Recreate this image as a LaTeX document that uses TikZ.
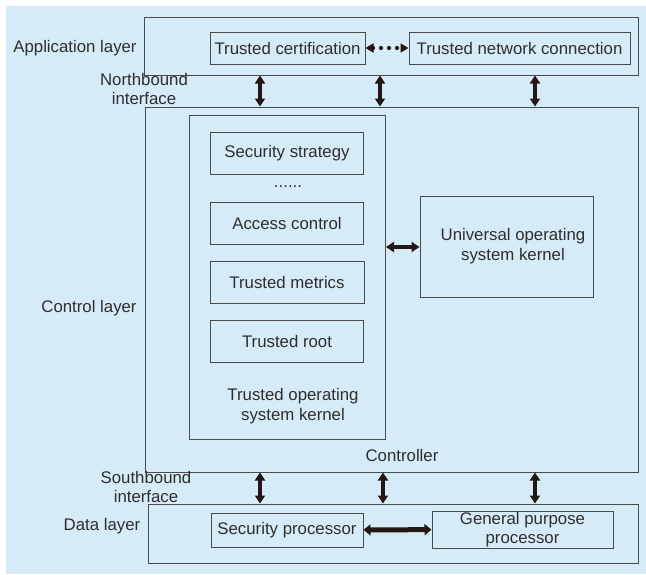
\documentclass[tikz,border=0pt]{standalone}
\usepackage{fontspec}
\setmainfont{Liberation Sans}
\usetikzlibrary{arrows.meta,positioning}
\definecolor{sdnback}{HTML}{D6EBF8}
\definecolor{sdnline}{HTML}{4A4A4A}
\definecolor{sdntext}{HTML}{2E2E2E}
\definecolor{sdnarrow}{HTML}{231815}
\tikzset{
 sdn layer/.style={draw=sdnline,line width=1pt,inner sep=0pt},
 sdn box/.style={draw=sdnline,line width=1pt,inner sep=0pt,text=sdntext,
                 font=\fontsize{16.8}{19.5}\selectfont,align=center},
 sdn label/.style={text=sdntext,font=\fontsize{16.8}{19.5}\selectfont,
                   align=center,inner sep=0pt},
 sdn arrow/.style={sdnarrow,line width=3.4pt,
                   {Triangle[length=8pt,width=10pt]}-{Triangle[length=8pt,width=10pt]}},
 sdn bus/.style={sdnarrow,line width=5pt,
                 {Triangle[length=7pt,width=11pt]}-{Triangle[length=7pt,width=11pt]}},
 sdn dotted/.style={sdnarrow,line width=4.2pt,line cap=round,
                    dash pattern=on 0pt off 8pt,
                    {Triangle[length=8pt,width=9pt]}-{Triangle[length=8pt,width=9pt]}}
}
\begin{document}
\begin{tikzpicture}[x=1pt,y=-1pt]
 \useasboundingbox (0,0) rectangle (646,574);
 \fill[white] (0,0) rectangle (646,574);
 \fill[sdnback] (6,6) rectangle (646,574);

 % layers
 \node[sdn layer,minimum width=494pt,minimum height=58pt] (app) at (391,46) {};
 \node[sdn layer,minimum width=493pt,minimum height=365pt] (ctrl) at (391.5,289.5) {};
 \node[sdn layer,minimum width=490pt,minimum height=59pt] (data) at (393,533.5) {};
 \node[sdn label] (applbl) at (75,48) {Application layer};
 \node[sdn label] (ctrllbl) at (89,308) {Control layer};
 \node[sdn label] (datalbl) at (102,526) {Data layer};
 \node[sdn label] (north) at (144,89) {Northbound\\interface};
 \node[sdn label] (south) at (146,487) {Southbound\\interface};
 \node[sdn label] (controller) at (402,455) {Controller};

 % application layer
 \node[sdn box,minimum width=155pt,minimum height=32pt] (cert) at (287.5,48) {Trusted certification};
 \node[sdn box,minimum width=221pt,minimum height=32pt] (tnc) at (519.5,48) {Trusted network connection};
 \draw[sdn dotted] (cert) -- (tnc);

 % controller
 \node[sdn layer,minimum width=196pt,minimum height=324pt] (tosk) at (287.5,277.5) {};
 \node[sdn box,minimum width=153pt,minimum height=42pt] (strategy) at (287,153.5) {Security strategy};
 \node[sdn label] (dots) at (288,187) {......};
 \node[sdn box,minimum width=153pt,minimum height=42pt] (access) at (287,223.5) {Access control};
 \node[sdn box,minimum width=154pt,minimum height=42pt] (metrics) at (287,282) {Trusted metrics};
 \node[sdn box,minimum width=153pt,minimum height=42pt] (root) at (287,341.5) {Trusted root};
 \node[sdn label] (tosklbl) at (293,406) {Trusted operating\\system kernel};
 \node[sdn box,minimum width=173pt,minimum height=101pt] (uosk) at (506.5,247) {};
 \node[sdn label] (uosklbl) at (513,246) {Universal operating\\system kernel};
 \draw[sdn arrow] (tosk.east |- uosk) -- (uosk.west);

 % data layer
 \node[sdn box,minimum width=152pt,minimum height=34pt] (secproc) at (287,530) {Security processor};
 \node[sdn box,minimum width=181pt,minimum height=37pt] (gpp) at (522.5,529.5) {General purpose\\processor};
 \draw[sdn bus] (secproc) -- (gpp);

 % interfaces
 \foreach \x in {260,380,535}
  \draw[sdn arrow] (\x,0 |- app.south) -- (\x,0 |- ctrl.north);
 \foreach \x in {260,383,535}
  \draw[sdn arrow] (\x,0 |- ctrl.south) -- (\x,0 |- data.north);
\end{tikzpicture}
\end{document}
